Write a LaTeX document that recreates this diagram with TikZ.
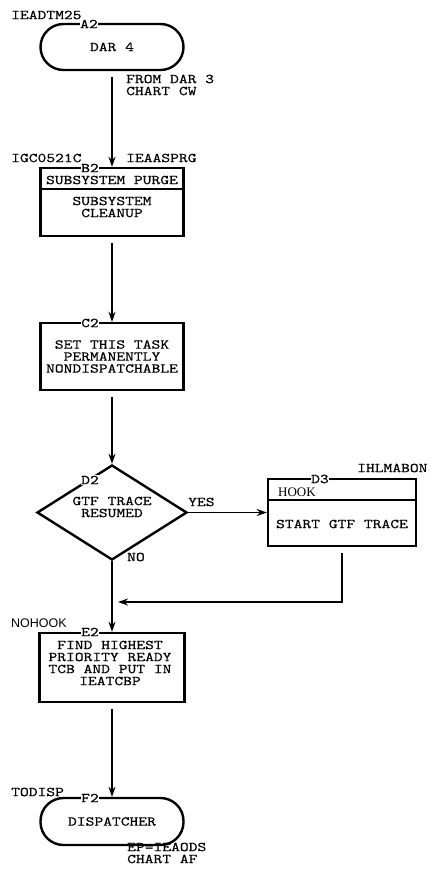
\documentclass[tikz,border=0pt]{standalone}
\usepackage{fontspec}
\setsansfont{Liberation Sans}
\setmainfont{Liberation Serif}
\newfontfamily\chartfont{lmmono10-regular.otf}[FakeStretch=1.24,FakeBold=0.4]
\usetikzlibrary{shapes.geometric,arrows.meta}
\begin{document}
\begin{tikzpicture}[x=1pt,y=-1pt,
  every node/.style={font=\chartfont\fontsize{13.5}{12}\selectfont},
  box/.style={draw, line width=2.4pt, minimum width=143pt, inner sep=0pt, align=center},
  term/.style={box, rounded corners=23pt, minimum height=46pt},
  divider/.style={line width=2.4pt},
  txt/.style={align=center, inner sep=0pt},
  tag/.style={fill=white, inner sep=0.5pt},
  note/.style={anchor=west, align=left, inner sep=0pt},
  flow/.style={line width=1.4pt, -{Stealth[length=10pt,width=7pt]}},
]
\useasboundingbox (0,0) rectangle (433,887);

% A2: entry terminal
\node[term] (A2) at (112,47) {DAR 4};
\node[tag] (A2tag) at (89,24) {A2};
\node[note] (A2ent) at (11,15) {IEADTM25};
\node[note] (A2from) at (126,85) {FROM DAR 3\\CHART CW};

% B2: subsystem purge
\node[box, minimum height=68pt] (B2) at (112,202) {};
\draw[divider] ([yshift=-22pt]B2.north west) -- ([yshift=-22pt]B2.north east);
\node[txt] (B2head) at (112,180) {SUBSYSTEM PURGE};
\node[txt] (B2body) at (112,207) {SUBSYSTEM\\CLEANUP};
\node[tag] (B2tag) at (90,168) {B2};
\node[note] (B2ent) at (11,158) {IGC0521C};
\node[note] (B2mod) at (126,158) {IEAASPRG};

% C2
\node[box, minimum height=67pt] (C2) at (112,356.5) {SET THIS TASK\\PERMANENTLY\\NONDISPATCHABLE};
\node[tag] (C2tag) at (90,323) {C2};

% D2: decision
\node[draw, diamond, line width=2.4pt, minimum width=150pt, minimum height=95pt,
      inner sep=0pt] (D2) at (112,512.5) {};
\node[txt] (D2txt) at (112,507) {GTF TRACE\\RESUMED};
\node[tag] (D2tag) at (90,480) {D2};
\node[note] (yes) at (188,502) {YES};
\node[note] (no) at (127,557) {NO};

% D3: hook
\node[box, minimum width=148pt, minimum height=67pt] (D3) at (342,512.5) {};
\draw[divider] ([yshift=-22pt]D3.north west) -- ([yshift=-22pt]D3.north east);
\node[note, font=\rmfamily\fontsize{13}{14}\selectfont] (D3head) at (278,492) {HOOK};
\node[txt] (D3body) at (342,524) {START GTF TRACE};
\node[tag] (D3tag) at (320,479) {D3};
\node[note] (D3mod) at (357,468) {IHLMABON};

% E2
\node[box, minimum width=145pt, minimum height=69pt] (E2) at (112,667.5) {};
\node[txt] (E2txt) at (110,663) {FIND HIGHEST\\PRIORITY READY\\TCB AND PUT IN\\IEATCBP};
\node[tag] (E2tag) at (90,632) {E2};
\node[note, font=\sffamily\fontsize{12.5}{14}\selectfont] (E2ent) at (11,623) {NOHOOK};

% F2: exit terminal
\node[term, minimum height=47pt] (F2) at (112,821.5) {DISPATCHER};
\node[tag] (F2tag) at (90,798) {F2};
\node[note] (F2ent) at (11,792) {TODISP};
\node[note] (F2ep) at (127,853) {EP=IEAODS\\CHART AF};

% connectors
\coordinate (join) at (112,602);
\draw[flow, shorten <=6pt] (A2.south) -- (B2.north);
\draw[flow, shorten <=6pt] (B2.south) -- (C2.north);
\draw[flow, shorten <=6pt] (C2.south) -- (D2.north);
\draw[flow] (D2.east) -- (D3.west);
\draw[flow] (D2.south) -- (E2.north);
\draw[flow, shorten <=6pt, shorten >=6pt] (D3.south) |- (join);
\draw[flow, shorten <=6pt] (E2.south) -- (F2.north);
\end{tikzpicture}
\end{document}
